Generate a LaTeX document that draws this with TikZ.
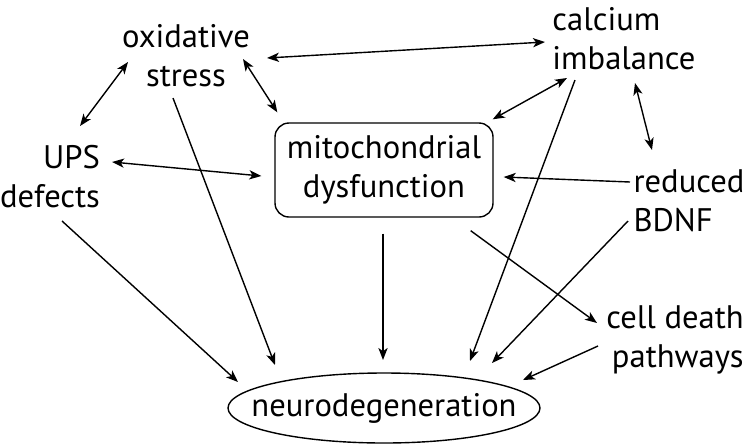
\documentclass[tikz,border=0pt]{standalone}
\usepackage{fontspec}
\setmainfont{PT Sans}
\usetikzlibrary{arrows.meta}
\begin{document}
\begin{tikzpicture}[x=0.5pt, y=-0.5pt, line width=0.7pt, line join=round,
	>={Stealth[length=6pt,width=4.6pt,inset=1.6pt]},
	font=\fontsize{16.3}{19.5}\selectfont,
	lbl/.style={inner sep=0pt},
	mbox/.style={draw, rounded corners=7pt, minimum width=109pt, minimum height=47pt, align=center}]
	\useasboundingbox (0,0) rectangle (750,446);
	% causes
	\node[lbl, align=center] (ox) at (186,56) {oxidative\\stress};
	\node[lbl, align=left] (ca) at (624,39) {calcium\\imbalance};
	\node[lbl, align=right] (ups) at (50,177) {UPS\\defects};
	\node[mbox] (mito) at (384,170) {mitochondrial\\dysfunction};
	\node[lbl, align=left] (bdnf) at (689,201) {reduced\\BDNF};
	\node[lbl, align=right] (cd) at (675,340) {cell death\\pathways};
	\node[lbl] (neuro) at (384,408) {neurodegeneration};
	\draw (neuro.center) ellipse [x radius=156, y radius=35];
	% two-way links
	\draw[<->] ([shift={(81,2)}]ox.center) -- ([shift={(-79,3)}]ca.center);
	\draw[<->] ([shift={(-58,6)}]ox.center) -- ([shift={(30,-51)}]ups.center);
	\draw[<->] ([shift={(57,3)}]ox.center) -- ([shift={(3,-10)}]mito.north west);
	\draw[<->] ([shift={(-57,39)}]ca.center) -- ([shift={(-1,-3)}]mito.north east);
	\draw[<->] ([shift={(62,-15)}]ups.center) -- ([shift={(-13,6)}]mito.west);
	\draw[<->] ([shift={(11,44)}]ca.center) -- ([shift={(-37,-51)}]bdnf.center);
	% one-way links
	\draw[->] ([shift={(-59,-19)}]bdnf.center) -- ([shift={(10,7)}]mito.east);
	\draw[->] ([shift={(-23,13)}]mito.south east) -- ([shift={(-78,-17)}]cd.center);
	\draw[->] ([shift={(-1,16)}]mito.south) -- ([shift={(-1,-48)}]neuro.center);
	\draw[->] ([shift={(-13,42)}]ox.center) -- ([shift={(-109,-43)}]neuro.center);
	\draw[->] ([shift={(12,44)}]ups.center) -- ([shift={(-146,-26)}]neuro.center);
	\draw[->] ([shift={(-49,41)}]ca.center) -- ([shift={(86,-47)}]neuro.center);
	\draw[->] ([shift={(-61,20)}]bdnf.center) -- ([shift={(108,-45)}]neuro.center);
	\draw[->] ([shift={(-77,6)}]cd.center) -- ([shift={(139,-28)}]neuro.center);
\end{tikzpicture}
\end{document}
